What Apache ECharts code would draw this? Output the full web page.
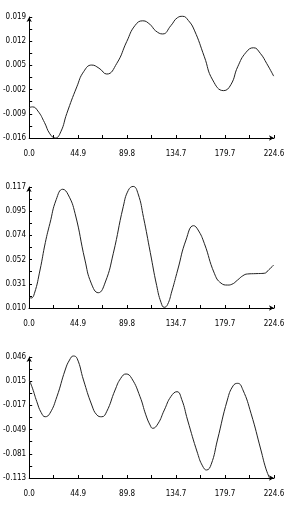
<!DOCTYPE html>
<html><head><meta charset="utf-8">
<script src="https://cdn.jsdelivr.net/npm/echarts@6/dist/echarts.min.js"></script>
<style>html,body{margin:0;padding:0;background:#fff}#c{width:302px;height:510px}</style>
</head><body><div id="c"></div>
<script>
// X tick labels (shared)
const xTickLabels = ['0.0','44.9','89.8','134.7','179.7','224.6'];
// Y tick labels per panel (bottom to top)
const yTicks1 = ['-0.016','-0.009','-0.002','0.005','0.012','0.019'];
const yTicks2 = ['0.010','0.031','0.052','0.074','0.095','0.117'];
const yTicks3 = ['-0.113','-0.081','-0.049','-0.017','0.015','0.046'];

// Panel 1
const x1 = [0,3,8,14,19,24,29,34.5,43.7,50,57.4,64,71.2,80.4,89.5,97,104.2,111,116,122.5,130,136,140.8,146,151.5,160.7,168.3,178.4,185,191.3,199,205.9,212,218,224.3];
const y1 = [-0.0072,-0.0070,-0.0082,-0.0115,-0.0148,-0.0160,-0.0142,-0.0089,-0.0012,0.0032,0.0051,0.0042,0.0025,0.0056,0.0119,0.0165,0.0179,0.0168,0.0150,0.0141,0.0165,0.0188,0.0192,0.0180,0.0152,0.0075,0.0008,-0.0023,-0.0006,0.0046,0.0088,0.0101,0.0085,0.0055,0.0019];
// Panel 2
const x2 = [0,2,5,10.1,15,19.2,25,30.9,36,42.2,51.3,57,63.5,70,77.3,86.4,91,95.5,100,105,111.2,117,121,124,127,131,136.3,143.9,150.9,155,160.7,169.9,176,182.1,186,191.3,196,200.4,208,215.6,220,224.3];
const y2 = [0.0200,0.0188,0.0230,0.0436,0.0680,0.0849,0.1060,0.1150,0.1100,0.0937,0.0524,0.0320,0.0235,0.0330,0.0584,0.0996,0.1140,0.1175,0.1110,0.0900,0.0590,0.0300,0.0150,0.0106,0.0130,0.0250,0.0436,0.0701,0.0828,0.0790,0.0672,0.0407,0.0320,0.0303,0.0310,0.0348,0.0385,0.0401,0.0404,0.0407,0.0440,0.0480];
// Panel 3
const x3 = [0,3,7,11,14.7,19,25.4,33,37,40.6,44,49.8,57.4,62,66.6,71,78.8,84,88.9,94,101.7,107,110.9,113.3,118,124,130,135.6,140,145.3,154.5,159,162.7,167,172.7,181.8,187,191.3,196,203.5,212.6,217,220.5];
const y3 = [0.0158,0.0050,-0.0127,-0.0270,-0.0325,-0.0280,-0.0062,0.0289,0.0420,0.0473,0.0440,0.0158,-0.0171,-0.0300,-0.0325,-0.0260,0.0026,0.0180,0.0237,0.0180,-0.0062,-0.0300,-0.0434,-0.0477,-0.0420,-0.0236,-0.0060,0.0004,-0.0100,-0.0368,-0.0806,-0.0970,-0.1025,-0.0950,-0.0631,-0.0105,0.0080,0.0114,0.0030,-0.0280,-0.0762,-0.1000,-0.1130];

const FONT = 'DejaVu Sans Condensed';
const xMax = parseFloat(xTickLabels[xTickLabels.length-1]);
const tops = [17, 187, 357];
const yTickSets = [yTicks1, yTicks2, yTicks3];
const xs = [x1, x2, x3], ys = [y1, y2, y3];

const grids = [], xAxes = [], yAxes = [], series = [];
for (let i = 0; i < 3; i++) {
  grids.push({left: 29, top: tops[i], width: 245, height: 121});
  xAxes.push({
    gridIndex: i, type: 'value', min: 0, max: xMax, interval: xMax/5,
    axisLine: {onZero: false, lineStyle: {color: '#000', width: 1}, symbol: ['none','arrow'], symbolSize: [4,5]},
    axisTick: {inside: true, length: 3, lineStyle: {color: '#000'}},
    minorTick: {show: true, splitNumber: 2, length: 3, lineStyle: {color: '#000'}},
    splitLine: {show: false},
    axisLabel: {margin: 12, color: '#000', fontFamily: FONT, fontSize: 8,
      formatter: (v, idx) => xTickLabels[idx]}
  });
  const labs = yTickSets[i];
  const ymin = parseFloat(labs[0]), ymax = parseFloat(labs[labs.length-1]);
  yAxes.push({
    gridIndex: i, type: 'value', min: ymin, max: ymax, interval: (ymax-ymin)/5,
    axisLine: {show: true, onZero: false, lineStyle: {color: '#000', width: 1}, symbol: ['none','arrow'], symbolSize: [4,5]},
    axisTick: {show: true, inside: true, length: 3, lineStyle: {color: '#000'}},
    minorTick: {show: true, splitNumber: 2, length: 3, lineStyle: {color: '#000'}},
    splitLine: {show: false},
    axisLabel: {margin: 3, color: '#000', fontFamily: FONT, fontSize: 8,
      formatter: (v, idx) => labs[idx]}
  });
  series.push({
    type: 'line', xAxisIndex: i, yAxisIndex: i, smooth: 0.5, showSymbol: false, clip: false,
    lineStyle: {color: '#222', width: 1}, animation: false,
    data: xs[i].map((x, k) => [x, ys[i][k]])
  });
}
const chart = echarts.init(document.getElementById('c'), null, {renderer: 'canvas'});
chart.setOption({backgroundColor: '#fff', animation: false, grid: grids, xAxis: xAxes, yAxis: yAxes, series: series});
</script></body></html>
